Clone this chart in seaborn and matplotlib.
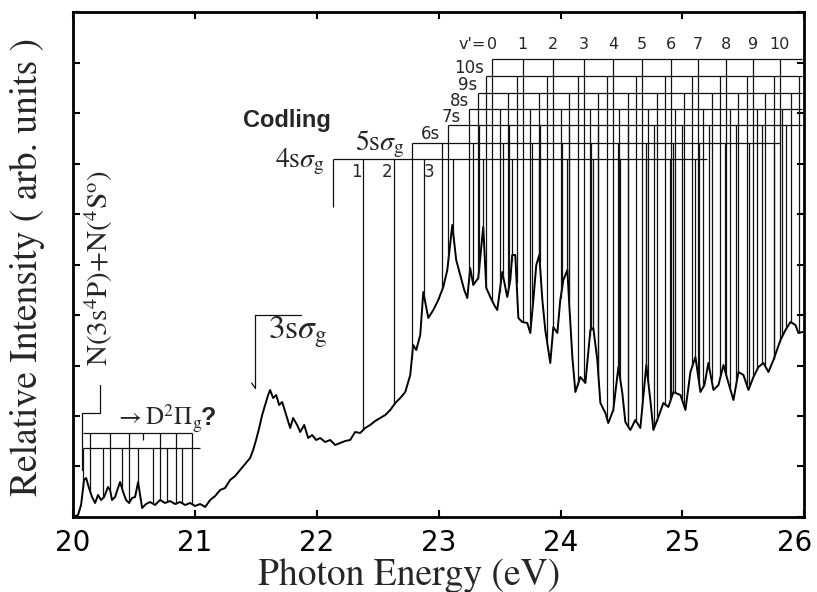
import numpy as np
import matplotlib
matplotlib.use('Agg')
import matplotlib.pyplot as plt
import matplotlib.transforms as mtransforms
import seaborn as sns
import pandas as pd

# ---------------- spectrum (photon energy eV, relative intensity arb. units) ----------------
energy = [20.000, 20.041, 20.066, 20.090, 20.107, 20.131, 20.156, 20.181, 20.205, 20.230,
          20.255, 20.287, 20.304, 20.320, 20.345, 20.369, 20.386, 20.411, 20.435, 20.460,
          20.484, 20.509, 20.534, 20.550, 20.567, 20.599, 20.632, 20.673, 20.714, 20.755,
          20.796, 20.837, 20.878, 20.920, 20.961, 21.002, 21.043, 21.084, 21.125, 21.166,
          21.207, 21.248, 21.289, 21.330, 21.371, 21.412, 21.453, 21.478, 21.502, 21.527,
          21.552, 21.576, 21.601, 21.617, 21.642, 21.667, 21.691, 21.716, 21.749, 21.782,
          21.806, 21.839, 21.864, 21.897, 21.929, 21.962, 21.995, 22.028, 22.069, 22.110,
          22.151, 22.192, 22.233, 22.274, 22.315, 22.356, 22.397, 22.438, 22.479, 22.521,
          22.562, 22.603, 22.644, 22.685, 22.726, 22.767, 22.791, 22.816, 22.849, 22.874,
          22.915, 22.956, 22.997, 23.038, 23.071, 23.112, 23.144, 23.177, 23.210, 23.235,
          23.259, 23.284, 23.325, 23.366, 23.391, 23.424, 23.456, 23.481, 23.522, 23.563,
          23.588, 23.604, 23.629, 23.654, 23.686, 23.727, 23.752, 23.777, 23.801, 23.826,
          23.851, 23.875, 23.900, 23.916, 23.941, 23.974, 23.998, 24.023, 24.056, 24.072,
          24.097, 24.122, 24.163, 24.204, 24.245, 24.269, 24.302, 24.327, 24.368, 24.392,
          24.433, 24.475, 24.507, 24.532, 24.573, 24.614, 24.655, 24.704, 24.737, 24.762,
          24.803, 24.844, 24.885, 24.926, 24.984, 25.025, 25.066, 25.107, 25.148, 25.181,
          25.213, 25.255, 25.296, 25.337, 25.378, 25.419, 25.460, 25.501, 25.542, 25.583,
          25.624, 25.665, 25.706, 25.747, 25.805, 25.846, 25.887, 25.928, 25.952, 25.985]
intensity = [0.00, 0.02, 0.12, 0.37, 0.39, 0.29, 0.20, 0.14, 0.22, 0.17,
             0.20, 0.30, 0.27, 0.17, 0.20, 0.29, 0.35, 0.25, 0.17, 0.14,
             0.19, 0.20, 0.35, 0.22, 0.09, 0.13, 0.15, 0.12, 0.17, 0.14,
             0.16, 0.13, 0.15, 0.12, 0.14, 0.11, 0.13, 0.10, 0.17, 0.21,
             0.27, 0.29, 0.37, 0.41, 0.47, 0.53, 0.59, 0.67, 0.77, 0.89,
             1.02, 1.12, 1.22, 1.27, 1.19, 1.22, 1.12, 1.15, 1.02, 0.89,
             0.99, 0.92, 0.85, 0.92, 0.79, 0.82, 0.77, 0.79, 0.75, 0.77,
             0.72, 0.74, 0.76, 0.77, 0.85, 0.84, 0.89, 0.92, 0.96, 0.99,
             1.02, 1.07, 1.14, 1.19, 1.25, 1.42, 1.72, 1.67, 1.82, 2.25,
             1.99, 2.07, 2.17, 2.30, 2.47, 2.92, 2.57, 2.42, 2.27, 2.19,
             2.49, 2.32, 2.39, 2.90, 2.29, 2.20, 2.12, 2.07, 2.45, 2.20,
             2.37, 2.62, 2.62, 1.99, 1.95, 1.94, 1.84, 2.17, 2.52, 2.62,
             2.17, 1.87, 1.67, 1.54, 1.90, 1.84, 2.17, 2.37, 2.47, 2.12,
             1.60, 1.25, 1.40, 1.34, 1.87, 1.89, 1.57, 1.14, 1.04, 0.94,
             1.07, 1.50, 1.24, 0.95, 0.87, 0.97, 0.89, 1.52, 1.17, 0.87,
             1.00, 1.14, 1.10, 1.25, 1.22, 1.07, 1.45, 1.60, 1.25, 1.32,
             1.54, 1.27, 1.32, 1.52, 1.34, 1.17, 1.45, 1.42, 1.27, 1.40,
             1.50, 1.54, 1.45, 1.57, 1.77, 1.87, 1.95, 1.92, 1.84, 1.85]

# ---------------- Rydberg series (Codling) ----------------
series_labels = ['4s', '5s', '6s', '7s', '8s', '9s', '10s']
series_height = [3.58, 3.74, 3.92, 4.08, 4.24, 4.41, 4.58]
series_end = [25.205, 25.80, 25.985, 25.985, 25.985, 25.985, 25.985]
lv_4s = [22.13, 22.38, 22.63, 22.88, 23.12, 23.36, 23.60, 23.82, 24.05, 24.27, 24.49, 24.70, 24.90, 25.10]
lv_5s = [22.78, 23.03, 23.28, 23.53, 23.77, 24.01, 24.25, 24.47, 24.70, 24.92, 25.14, 25.35, 25.55, 25.75]
lv_6s = [23.08, 23.33, 23.58, 23.83, 24.07, 24.31, 24.55, 24.77, 25.00, 25.22, 25.44, 25.65, 25.85]
lv_7s = [23.25, 23.50, 23.75, 24.00, 24.24, 24.48, 24.72, 24.94, 25.17, 25.39, 25.61, 25.82]
lv_8s = [23.32, 23.57, 23.82, 24.07, 24.31, 24.55, 24.79, 25.01, 25.24, 25.46, 25.68, 25.89]
lv_9s = [23.39, 23.64, 23.89, 24.14, 24.38, 24.62, 24.86, 25.08, 25.31, 25.53, 25.75, 25.96]
lv_10s = [23.44, 23.69, 23.94, 24.19, 24.43, 24.67, 24.91, 25.13, 25.36, 25.58, 25.80]
series_levels = [lv_4s, lv_5s, lv_6s, lv_7s, lv_8s, lv_9s, lv_10s]
vprime_labels = ["0", "1", "2", "3", "4", "5", "6", "7", "8", "9", "10"]
low_v_labels = ["1", "2", "3"]

# ---------------- D2Pi_g progression ----------------
d_top_levels = [20.14, 20.30, 20.46, 20.714, 20.846, 20.977]
d_top_short = [20.575]
d_bot_levels = [20.082, 20.246, 20.402, 20.534, 20.657, 20.772, 20.895]
d_top_height, d_bot_height = 0.84, 0.69

xticks = [20, 21, 22, 23, 24, 25, 26]

# ---------------- figure ----------------
sns.set_style('ticks')
plt.rcParams['mathtext.fontset'] = 'stix'
plt.rcParams['font.family'] = ['DejaVu Sans']
SERIF = 'STIXGeneral'
NARROW = ['DejaVu Sans']

fig = plt.figure(figsize=(8.17, 5.92), dpi=100)
ax = fig.add_axes([0.0894, 0.1267, 0.895, 0.853])

df = pd.DataFrame({'E': energy, 'I': intensity})
sns.lineplot(data=df, x='E', y='I', color='black', lw=1.4, ax=ax,
             estimator=None, sort=False, legend=False)

ax.set_xlim(20, 26)
ax.set_ylim(0, 5.05)
ax.set_xticks(xticks)
ax.set_xticklabels([str(t) for t in xticks], family=NARROW, fontsize=20)
ax.set_yticks(np.linspace(0, 5.05, 11))
ax.set_yticklabels([])
ax.tick_params(direction='in', length=5, width=1.5, top=True, right=True, pad=9, colors='black')
for sp in ax.spines.values():
    sp.set_linewidth(2)
    sp.set_color('black')
ax.set_xlabel('')
ax.set_ylabel('')
# keep the last tick label inside the figure
last = ax.get_xticklabels()[-1]
last.set_transform(last.get_transform() +
                   mtransforms.ScaledTranslation(-10 / 100, 0, fig.dpi_scale_trans))

lc = dict(color='#111111', lw=0.9)

# Rydberg ladders
for lab, h, end, lv in zip(series_labels, series_height, series_end, series_levels):
    lv = np.array(lv)
    ax.hlines(h, lv[0], end, **lc)
    bottoms = np.interp(lv, energy, intensity)
    if lab == '4s':
        bottoms[0] = 3.10
    ax.vlines(lv, bottoms, h, **lc)

# row labels 6s..10s
for i in range(2, 7):
    ymid = (series_height[i] + series_height[i - 1]) / 2
    ax.text(series_levels[i][0] - 0.07, ymid, series_labels[i], ha='right', va='center',
            family=NARROW, fontsize=12)

# v' labels above 10s row
for v, e in zip(vprime_labels, lv_10s):
    ax.text(e, 4.73, v, ha='center', va='center', family=NARROW, fontsize=11.5)
ax.text(lv_10s[0] - 0.05, 4.73, "v'=", ha='right', va='center', family=NARROW, fontsize=11.5)

# 4s v labels
for lab, e, dx in zip(low_v_labels, lv_4s[1:4], [-0.055, -0.055, 0.04]):
    ax.text(e + dx, 3.45, lab, ha='center', va='center', family=NARROW, fontsize=12)

ax.text(21.757, 3.97, 'Codling', ha='center', va='center', family='Liberation Sans',
        fontweight='bold', fontsize=17)
ax.text(21.66, 3.50, r'4s$\sigma_{\rm g}$', ha='left', va='baseline', family=SERIF, fontsize=20)
ax.text(22.315, 3.67, r'5s$\sigma_{\rm g}$', ha='left', va='baseline', family=SERIF, fontsize=20)

# 3s sigma_g
ax.plot([21.87, 21.494, 21.494], [2.02, 2.02, 1.29], **lc)
ax.plot([21.494, 21.465], [1.29, 1.34], **lc)
ax.text(21.60, 1.79, r'3s$\sigma_{\rm g}$', ha='left', va='baseline', family=SERIF, fontsize=24)

# N(3s4P)+N(4S) limit
ax.plot([20.222, 20.222, 20.074, 20.074], [1.32, 1.04, 1.04, 0.47], **lc)
ax.text(20.21, 2.49, r'N(3s$^4$P)+N($^4$S$^{\rm o}$)', rotation=90, ha='center', va='center',
        family=SERIF, fontsize=21)

# D2Pi_g progression
ax.hlines(d_top_height, 20.08, 20.98, **lc)
ax.hlines(d_bot_height, 20.08, 21.04, **lc)
ax.vlines(d_top_levels, np.interp(d_top_levels, energy, intensity), d_top_height, **lc)
ax.vlines(d_top_short, d_top_height - 0.07, d_top_height, **lc)
ax.vlines(d_bot_levels, np.interp(d_bot_levels, energy, intensity), d_bot_height, **lc)
ax.text(20.345, 0.92, r'$\rightarrow$D$^2\Pi_{\rm g}$', ha='left', va='baseline',
        family=SERIF, fontsize=18)
ax.text(21.05, 0.92, '?', ha='left', va='baseline', family='Liberation Sans',
        fontweight='bold', fontsize=18)

# axis labels
fig.text(409 / 817, 1 - 585 / 592, 'Photon Energy (eV)', ha='center', va='baseline',
         family=SERIF, fontsize=27)
fig.text(27 / 817, 1 - 267 / 592, 'Relative Intensity ( arb. units )', rotation=90,
         ha='center', va='center', family=SERIF, fontsize=27)

fig.savefig('out.png', dpi=100)
